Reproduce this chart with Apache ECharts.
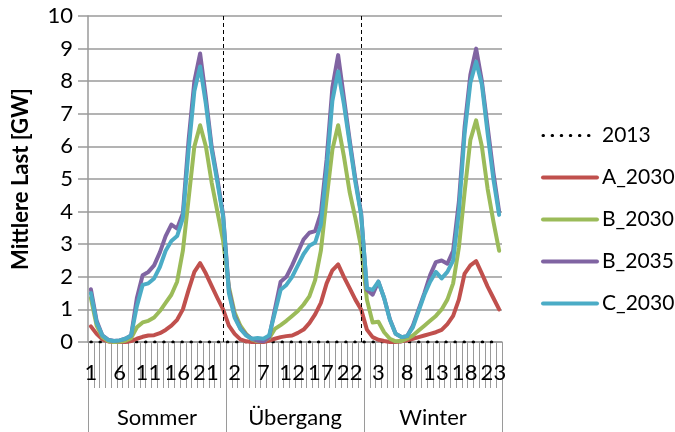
<!DOCTYPE html>
<html><head><meta charset="utf-8">
<script src="https://cdn.jsdelivr.net/npm/echarts@6/dist/echarts.min.js"></script>
<style>html,body{margin:0;padding:0;background:#fff}#c{width:675px;height:432px}</style>
</head><body><div id="c"></div>
<script>
// ---- data ----
const hourLabels = ['1','2','3','4','5','6','7','8','9','10','11','12','13','14','15','16','17','18','19','20','21','22','23','24'];
const seasons = ['Sommer', 'Übergang', 'Winter'];
const seriesNames = ['2013', 'A_2030', 'B_2030', 'B_2035', 'C_2030'];
const seasonBoundaryIdx = [23, 47];

const v2013 = [
  0,0,0,0,0,0,0,0,0,0,0,0,0,0,0,0,0,0,0,0,0,0,0,0,
  0,0,0,0,0,0,0,0,0,0,0,0,0,0,0,0,0,0,0,0,0,0,0,0,
  0,0,0,0,0,0,0,0,0,0,0,0,0,0,0,0,0,0,0,0,0,0,0,0
];
const vA2030 = [
  0.48,0.25,0.08,0.02,0,0,0,0.03,0.1,0.16,0.2,0.21,0.27,0.37,0.5,0.68,1.0,1.6,2.15,2.42,2.1,1.72,1.35,1.0,
  0.5,0.25,0.08,0.02,0,0,0,0.04,0.1,0.15,0.18,0.2,0.28,0.38,0.58,0.85,1.2,1.8,2.2,2.38,2.0,1.65,1.3,1.0,
  0.38,0.15,0.07,0.03,0,0,0.02,0.05,0.1,0.15,0.2,0.25,0.3,0.37,0.55,0.8,1.3,2.1,2.35,2.48,2.1,1.7,1.35,1.0
];
const vB2030 = [
  1.35,0.5,0.15,0.03,0,0.01,0.04,0.12,0.45,0.6,0.65,0.75,0.95,1.2,1.45,1.85,2.8,4.4,6.0,6.65,6.0,4.9,4.0,3.1,
  1.7,0.9,0.5,0.25,0.08,0.02,0.03,0.12,0.4,0.52,0.65,0.8,0.95,1.15,1.4,1.9,2.8,4.4,5.9,6.65,5.7,4.6,3.8,2.9,
  1.3,0.6,0.62,0.3,0.1,0.02,0.03,0.1,0.2,0.35,0.5,0.65,0.8,1.0,1.3,1.8,2.9,4.6,6.2,6.8,6.0,4.7,3.7,2.8
];
const vB2035 = [
  1.62,0.65,0.2,0.07,0.03,0.05,0.1,0.2,1.35,2.05,2.15,2.35,2.75,3.25,3.6,3.48,3.95,6.2,8.0,8.85,7.5,6.0,5.0,3.9,
  1.6,0.8,0.42,0.22,0.1,0.04,0.02,0.15,1.0,1.85,2.0,2.35,2.75,3.15,3.35,3.4,3.95,5.6,7.8,8.8,7.5,6.2,5.0,3.95,
  1.6,1.45,1.85,1.35,0.7,0.25,0.15,0.18,0.5,1.0,1.5,2.05,2.45,2.5,2.4,2.8,4.3,6.6,8.2,9.0,8.0,6.6,5.2,4.0
];
const vC2030 = [
  1.5,0.6,0.2,0.06,0.03,0.05,0.1,0.2,1.1,1.75,1.8,1.95,2.3,2.8,3.1,3.25,3.8,5.9,7.7,8.45,7.3,5.9,4.9,3.85,
  1.5,0.75,0.4,0.2,0.1,0.12,0.1,0.2,0.9,1.6,1.75,2.0,2.35,2.7,2.95,3.05,3.6,5.3,7.4,8.3,7.3,6.1,4.9,3.9,
  1.65,1.6,1.85,1.35,0.68,0.25,0.15,0.18,0.45,0.95,1.45,1.85,2.15,1.95,2.15,2.5,4.0,6.4,7.95,8.6,7.9,6.4,5.0,3.9
];

// ---- build ----
const categories = [];
seasons.forEach(function(){ hourLabels.forEach(function(h){ categories.push(h); }); });

const FONT = 'Lato';
const GRAY = '#9a9a9a';
const colors = ['#000000', '#C0504D', '#9BBB59', '#8064A2', '#4BACC6'];
const values = [v2013, vA2030, vB2030, vB2035, vC2030];
const dotStyle = { color: '#000', width: 3, type: [0.5, 8.6], cap: 'round' };

const series = seriesNames.map(function(name, i){
  const s = {
    name: name, type: 'line', data: values[i], symbol: 'none',
    xAxisIndex: 0, yAxisIndex: 0, z: 2 + i,
    lineStyle: i === 0 ? dotStyle
      : { color: colors[i], width: 4, join: 'round', cap: 'round' },
    itemStyle: { color: colors[i] }
  };
  if (i === 0) {
    s.markLine = {
      silent: true, symbol: ['none', 'none'], animation: false,
      label: { show: false },
      lineStyle: { color: '#000', width: 1, type: [4, 3] },
      data: seasonBoundaryIdx.map(function(k){ return { xAxis: k }; })
    };
  }
  return s;
});

const legendData = seriesNames.map(function(name, i){
  return {
    name: name,
    lineStyle: i === 0 ? { width: 3, type: [0.5, 8.6], cap: 'round', color: '#000' }
                       : { width: 4, cap: 'round', color: colors[i] }
  };
});

const chart = echarts.init(document.getElementById('c'), null, { renderer: 'canvas' });
chart.setOption({
  animation: false,
  backgroundColor: '#fff',
  textStyle: { fontFamily: FONT },
  grid: { left: 88, right: 173, top: 16, bottom: 90, containLabel: false },
  legend: {
    orient: 'vertical', left: 536, top: 120, padding: 5,
    itemWidth: 54, itemHeight: 20, itemGap: 21,
    itemStyle: { opacity: 0 },
    data: legendData,
    textStyle: { fontFamily: FONT, fontSize: 21, color: '#000', lineHeight: 20 }
  },
  xAxis: [
    {
      type: 'category', data: categories, boundaryGap: true, position: 'bottom',
      axisLine: { show: true, lineStyle: { color: GRAY, width: 1.5 } },
      axisTick: { show: true, interval: 0, length: 46, lineStyle: { color: GRAY, width: 1 } },
      axisLabel: { interval: 4, margin: 20, fontFamily: FONT, fontSize: 22, color: '#000' },
      splitLine: { show: false }
    },
    {
      type: 'category', data: seasons, boundaryGap: true, position: 'bottom', offset: 0,
      axisLine: { show: false },
      axisTick: { show: true, interval: 0, length: 100, lineStyle: { color: GRAY, width: 1 } },
      axisLabel: { interval: 0, margin: 65, fontFamily: FONT, fontSize: 22, color: '#000' },
      splitLine: { show: false }
    }
  ],
  yAxis: {
    type: 'value', min: 0, max: 10, interval: 1,
    name: 'Mittlere Last [GW]', nameLocation: 'middle', nameGap: 56,
    nameTextStyle: { fontFamily: FONT, fontSize: 22, fontWeight: 'bold', color: '#000' },
    axisLine: { show: true, lineStyle: { color: GRAY, width: 1.5 } },
    axisTick: { show: true, length: 10, lineStyle: { color: GRAY, width: 1.5 } },
    axisLabel: { margin: 15, fontFamily: FONT, fontSize: 22, color: '#000' },
    splitLine: { show: true, lineStyle: { color: GRAY, width: 1.5 } }
  },
  series: series
});
</script>
</body></html>
